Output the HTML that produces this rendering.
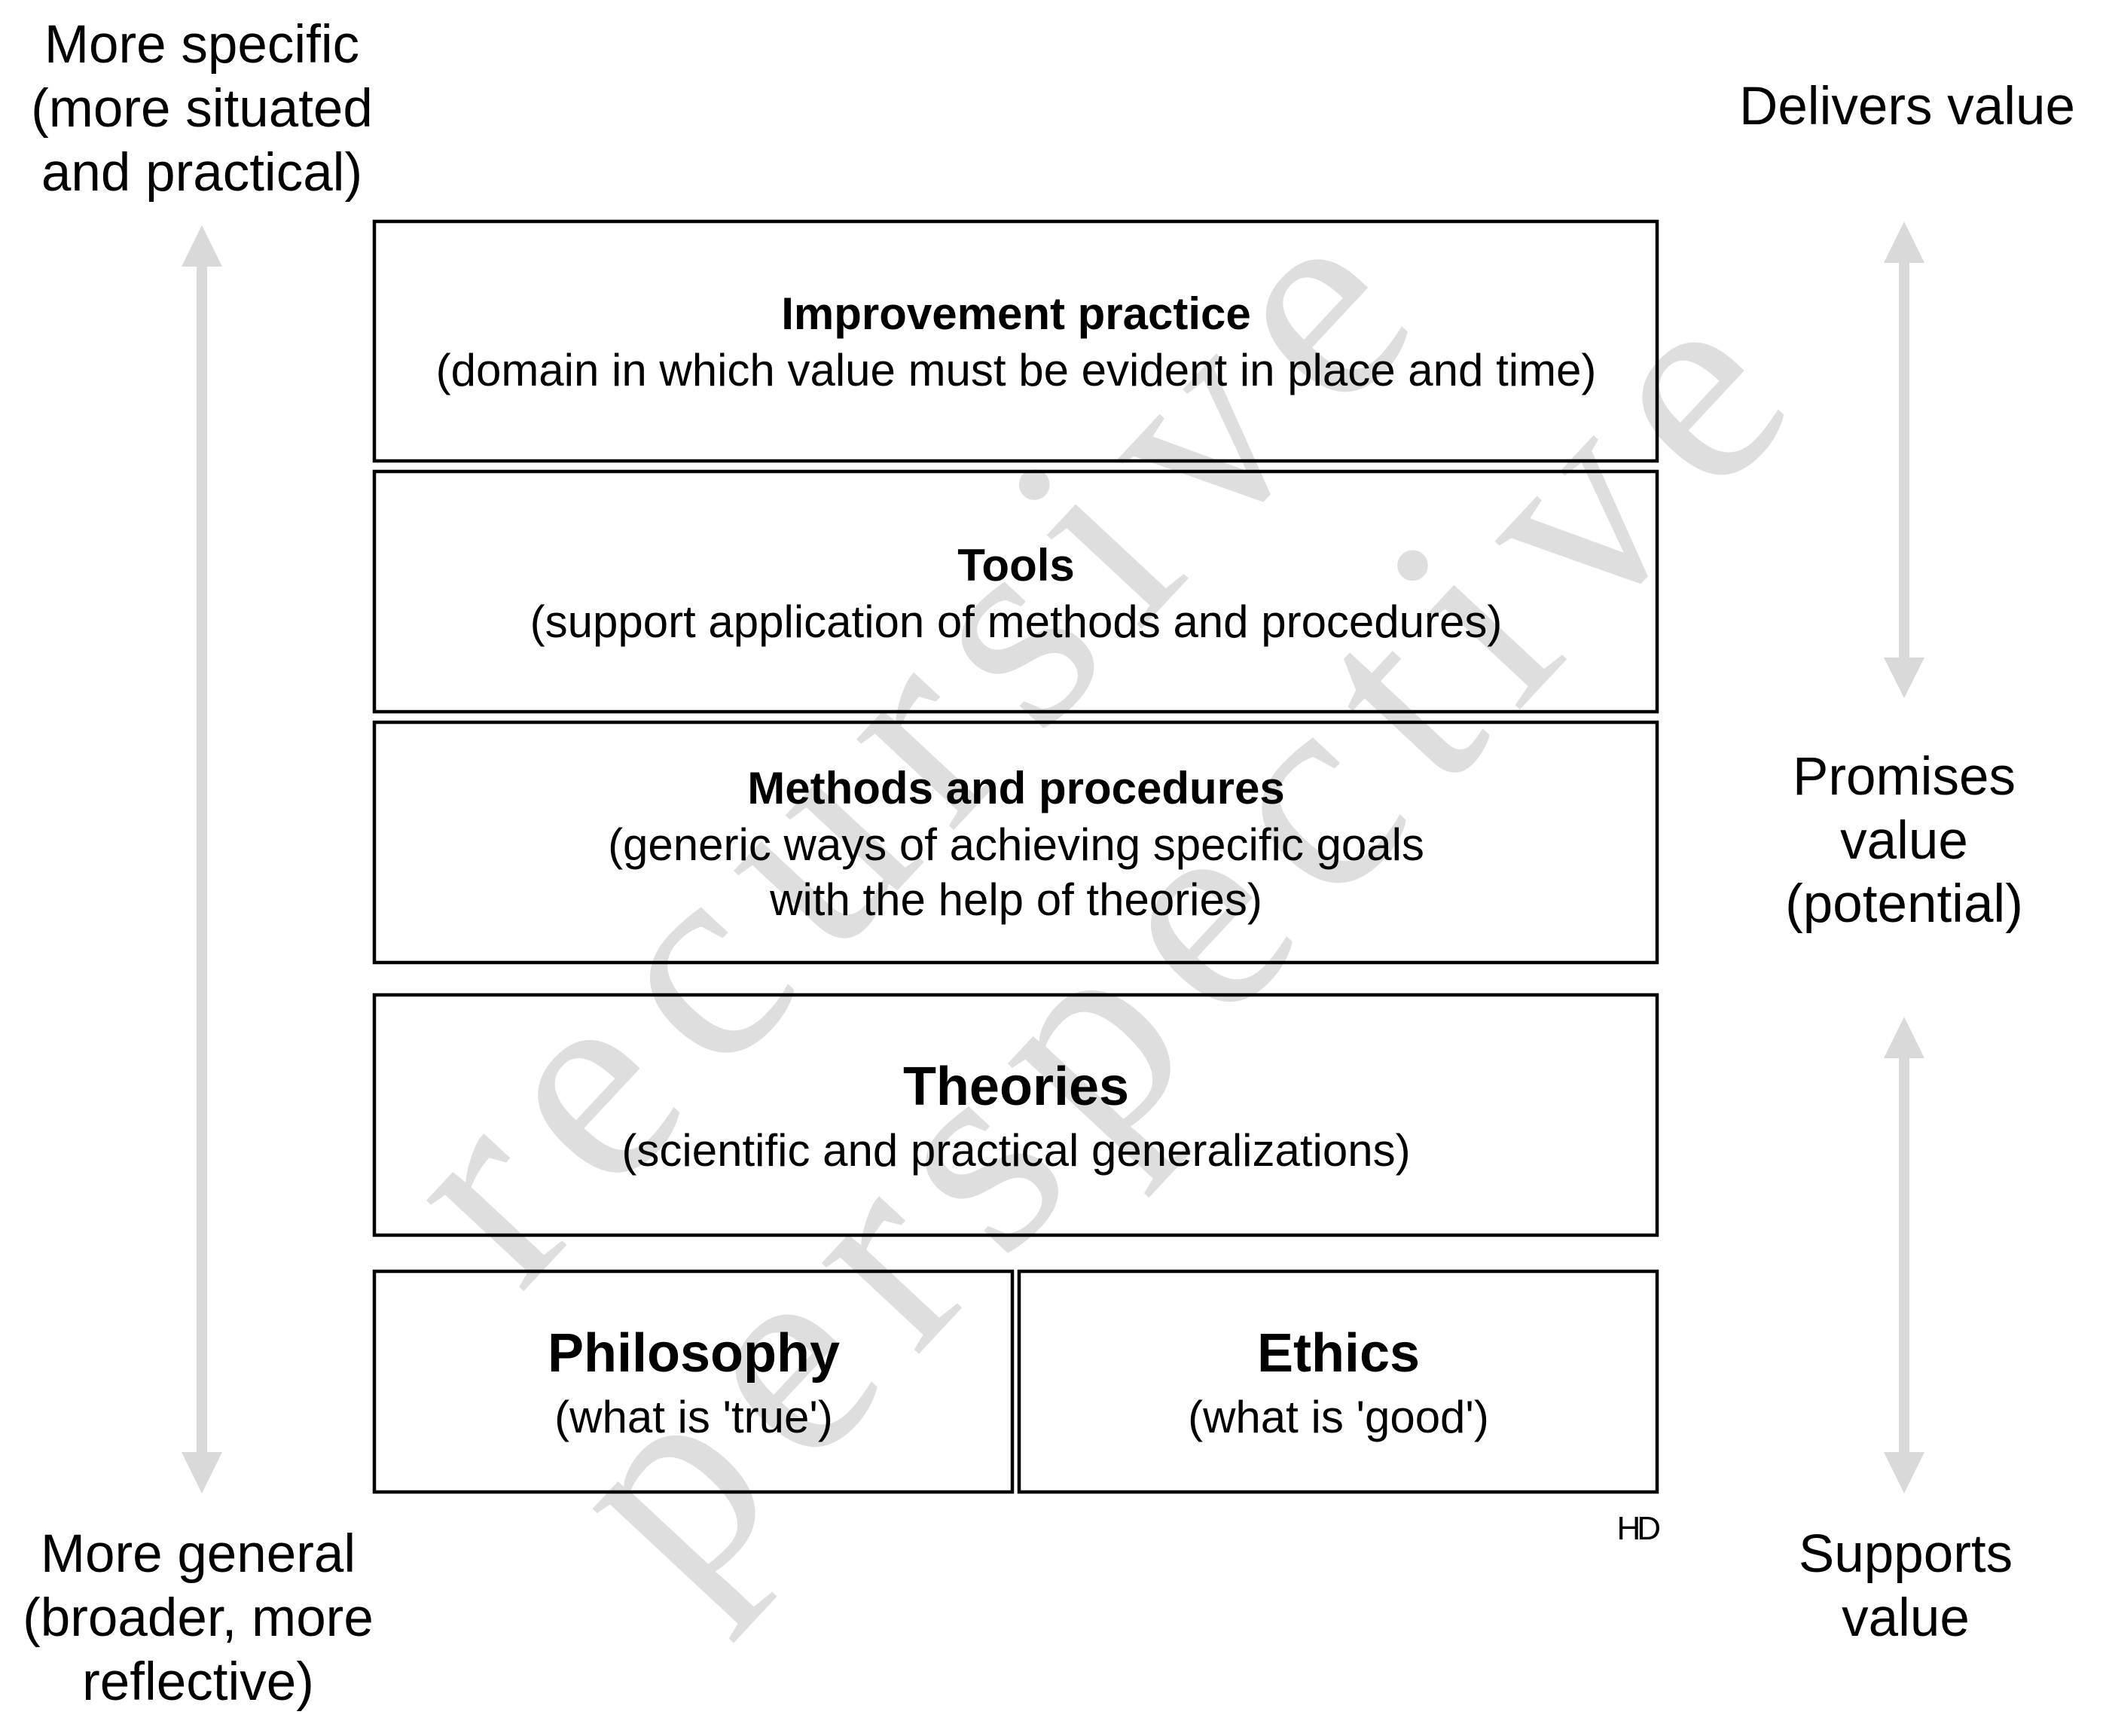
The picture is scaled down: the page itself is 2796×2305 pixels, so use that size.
<!DOCTYPE html>
<html><head><meta charset="utf-8"><style>
html,body{margin:0;padding:0;background:#fff;}
body{width:2796px;height:2300px;overflow:hidden;}
svg text{font-family:"Liberation Sans",Arial,sans-serif;}
</style></head><body>
<svg width="2796" height="2300" viewBox="0 0 2796 2300" xmlns="http://www.w3.org/2000/svg">
<g fill="#dedede" font-size="385">
<text x="0" y="0" transform="translate(690,1720) rotate(-47)" textLength="1760" lengthAdjust="spacing" style="font-family:'Liberation Serif',serif">recursive</text>
<text x="0" y="0" transform="translate(910,2130) rotate(-47)" textLength="2170" lengthAdjust="spacing" style="font-family:'Liberation Serif',serif">perspective</text>
</g>
<g fill="#d9d9d9">
<rect x="261" y="350" width="14" height="1585"/>
<polygon points="268,299 241,354 295,354"/>
<polygon points="268,1983 241,1928 295,1928"/>
<rect x="2521" y="345" width="14" height="535"/>
<polygon points="2528,294 2501,349 2555,349"/>
<polygon points="2528,927 2501,873 2555,873"/>
<rect x="2521" y="1400" width="14" height="535"/>
<polygon points="2528,1350 2501,1405 2555,1405"/>
<polygon points="2528,1983 2501,1928 2555,1928"/>
</g>
<g fill="none" stroke="#000" stroke-width="4.5">
<rect x="497" y="294" width="1703" height="318"/>
<rect x="497" y="626" width="1703" height="319"/>
<rect x="497" y="959" width="1703" height="319"/>
<rect x="497" y="1321" width="1703" height="319"/>
<rect x="497" y="1688" width="847" height="293"/>
<rect x="1353" y="1688" width="847" height="293"/>
</g>
<g text-anchor="middle" fill="#000">
<text x="1349" y="437" font-size="60" font-weight="bold">Improvement practice</text>
<text x="1349" y="512" font-size="60">(domain in which value must be evident in place and time)</text>
<text x="1349" y="771" font-size="60" font-weight="bold">Tools</text>
<text x="1349" y="846" font-size="60">(support application of methods and procedures)</text>
<text x="1349" y="1067" font-size="60" font-weight="bold">Methods and procedures</text>
<text x="1349" y="1142" font-size="60">(generic ways of achieving specific goals</text>
<text x="1349" y="1215" font-size="60">with the help of theories)</text>
<text x="1349" y="1467" font-size="72" font-weight="bold">Theories</text>
<text x="1349" y="1548" font-size="60">(scientific and practical generalizations)</text>
<text x="921" y="1821" font-size="72" font-weight="bold">Philosophy</text>
<text x="921" y="1902" font-size="60">(what is 'true')</text>
<text x="1777" y="1821" font-size="72" font-weight="bold">Ethics</text>
<text x="1777" y="1902" font-size="60">(what is 'good')</text>
<g font-size="71">
<text x="268" y="83">More specific</text>
<text x="268" y="168">(more situated</text>
<text x="268" y="253">and practical)</text>
<text x="263" y="2087">More general</text>
<text x="263" y="2172">(broader, more</text>
<text x="263" y="2257">reflective)</text>
<text x="2532" y="165">Delivers value</text>
<text x="2528" y="1055">Promises</text>
<text x="2528" y="1140">value</text>
<text x="2528" y="1224">(potential)</text>
<text x="2530" y="2087">Supports</text>
<text x="2530" y="2172">value</text>
</g>
</g>
<text x="2200" y="2044" font-size="44" text-anchor="end" letter-spacing="-5">HD</text>
</svg>
</body></html>
